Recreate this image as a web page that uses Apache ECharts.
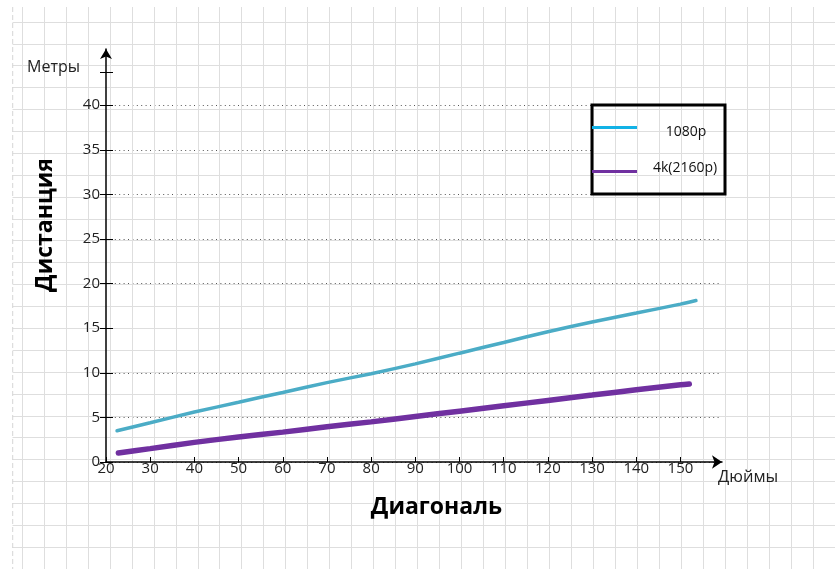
<!DOCTYPE html>
<html>
<head>
<meta charset="utf-8">
<script src="https://cdn.jsdelivr.net/npm/echarts@6/dist/echarts.min.js"></script>
<style>
  html, body { margin: 0; padding: 0; background: #fff; }
  #chart { width: 835px; height: 569px; }
</style>
</head>
<body>
<div id="chart"></div>
<script>
// Screen diagonal (inches) and recommended viewing distance (metres)
const seriesNames = ['1080p', '4k(2160p)'];
const inches1080 = [22.5, 30, 40, 50, 60, 70, 80, 90, 100, 110, 120, 130, 140, 150, 153.5];
const dist1080   = [3.5, 4.4, 5.6, 6.7, 7.8, 8.9, 9.9, 11.0, 12.2, 13.4, 14.6, 15.7, 16.7, 17.7, 18.1];
const inches4k   = [22.8, 30, 40, 50, 60, 70, 80, 90, 100, 110, 120, 130, 140, 150, 152];
const dist4k     = [1.0, 1.5, 2.2, 2.8, 3.35, 3.95, 4.5, 5.1, 5.7, 6.3, 6.9, 7.5, 8.1, 8.65, 8.75];

// Axis tick labels
const xTickLabels = [20, 30, 40, 50, 60, 70, 80, 90, 100, 110, 120, 130, 140, 150];
const yTickLabels = [0, 5, 10, 15, 20, 25, 30, 35, 40];
const yUnitTick = 43.7;   // unlabeled tick next to the unit caption

const font = '"Open Sans", "Noto Sans", sans-serif';
const seriesColors = ['#4bacc6', '#7030a0'];
const legendColors = ['#12b2e6', '#7030a0'];

function pairs(xs, ys) { return xs.map((x, i) => [x, ys[i]]); }

const chart = echarts.init(document.getElementById('chart'), null, { renderer: 'canvas' });

const option = {
  animation: false,
  backgroundColor: '#ffffff',
  grid: [
    // 0: graph-paper background
    { left: -4.5, right: -0.3, top: -6.1, bottom: -4.45, containLabel: false },
    // 1: dotted value lines
    { left: 106, right: 114, top: 105.4, bottom: 107, containLabel: false },
    // 2: axes and data
    { left: 106, right: 113, top: 49, bottom: 107, containLabel: false }
  ],
  xAxis: [
    {
      gridIndex: 0, type: 'value', min: -5, max: 33, interval: 1, z: 3,
      axisLine: { show: false }, axisTick: { show: false }, axisLabel: { show: false },
      splitLine: { show: true, lineStyle: { color: '#dedede', width: 1 } }
    },
    {
      gridIndex: 1, type: 'value', min: 20, max: 159.4, show: false,
      splitLine: { show: false }
    },
    {
      gridIndex: 2, type: 'value', min: 20, max: 159.4, z: 6,
      axisLine: { show: true, symbol: ['none', 'arrow'], symbolSize: [10, 10],
        lineStyle: { color: '#000', width: 1.5 } },
      axisTick: { show: true, inside: true, length: 5, customValues: xTickLabels,
        lineStyle: { color: '#000', width: 1 } },
      axisLabel: { show: true, customValues: xTickLabels, margin: -1,
        color: '#222', fontSize: 15, fontFamily: font },
      splitLine: { show: false }
    }
  ],
  yAxis: [
    {
      gridIndex: 0, type: 'value', min: -5, max: 21, interval: 1, z: 3,
      axisLine: { show: false }, axisTick: { show: false }, axisLabel: { show: false },
      splitLine: { show: true, lineStyle: { color: '#dedede', width: 1 } }
    },
    {
      gridIndex: 1, type: 'value', min: 0, max: 40, interval: 5, z: 1,
      axisLine: { show: false }, axisTick: { show: false }, axisLabel: { show: false },
      splitLine: { show: true, lineStyle: { color: '#555', width: 1, type: [1, 3.4] } }
    },
    {
      gridIndex: 2, type: 'value', min: 0, max: 46.3, position: 'left', z: 6,
      axisLine: { show: true, symbol: ['none', 'arrow'], symbolSize: [9, 10],
        lineStyle: { color: '#000', width: 1.5 } },
      axisTick: { show: true, inside: false, length: 6,
        customValues: yTickLabels.concat([yUnitTick]),
        lineStyle: { color: '#000', width: 1 } },
      axisLabel: { show: true, customValues: yTickLabels, margin: 6,
        color: '#222', fontSize: 15, fontFamily: font },
      splitLine: { show: false }
    },
    {
      gridIndex: 2, type: 'value', min: 0, max: 46.3, position: 'left', offset: 0, z: 6,
      axisLine: { show: false },
      axisTick: { show: true, inside: true, length: 7,
        customValues: yTickLabels.concat([yUnitTick]),
        lineStyle: { color: '#000', width: 1 } },
      axisLabel: { show: false },
      splitLine: { show: false }
    }
  ],
  series: [
    {
      name: seriesNames[0], type: 'line', xAxisIndex: 2, yAxisIndex: 2, z: 5,
      data: pairs(inches1080, dist1080), showSymbol: false, smooth: 0.3,
      lineStyle: { color: seriesColors[0], width: 3.5, cap: 'round' }
    },
    {
      name: seriesNames[1], type: 'line', xAxisIndex: 2, yAxisIndex: 2, z: 5,
      data: pairs(inches4k, dist4k), showSymbol: false, smooth: 0.3,
      lineStyle: { color: seriesColors[1], width: 5.5, cap: 'round' }
    }
  ],
  graphic: [
    // white margin around the graph paper
    { type: 'rect', z: 4, silent: true, shape: { x: 0, y: 0, width: 12.5, height: 569 }, style: { fill: '#fff' } },
    { type: 'rect', z: 4, silent: true, shape: { x: 0, y: 0, width: 835, height: 7 }, style: { fill: '#fff' } },
    { type: 'line', z: 4, silent: true, shape: { x1: 12.7, y1: 7, x2: 12.7, y2: 569 },
      style: { stroke: '#d6d6d6', lineWidth: 1, lineDash: [5, 3] } },

    // legend box: white fill under the paper, frame on top
    { type: 'rect', z: 2, silent: true, shape: { x: 592, y: 105, width: 133, height: 89 }, style: { fill: '#fff' } },
    { type: 'rect', z: 7, silent: true, shape: { x: 592, y: 105, width: 133, height: 89 },
      style: { fill: 'none', stroke: '#000', lineWidth: 3 } },
    { type: 'line', z: 7, silent: true, shape: { x1: 592, y1: 127.5, x2: 637, y2: 127.5 },
      style: { stroke: legendColors[0], lineWidth: 3 } },
    { type: 'line', z: 7, silent: true, shape: { x1: 592, y1: 171.5, x2: 637, y2: 171.5 },
      style: { stroke: legendColors[1], lineWidth: 3 } },
    { type: 'text', z: 7, x: 686, y: 132, silent: true,
      style: { text: seriesNames[0], fill: '#111', font: '14px ' + font, align: 'center', verticalAlign: 'middle' } },
    { type: 'text', z: 7, x: 685, y: 168, silent: true,
      style: { text: seriesNames[1], fill: '#111', font: '14px ' + font, align: 'center', verticalAlign: 'middle' } },

    // axis units and titles
    { type: 'text', z: 7, x: 27, y: 67, silent: true,
      style: { text: 'Метры', fill: '#222', font: '16px ' + font, align: 'left', verticalAlign: 'middle' } },
    { type: 'text', z: 7, x: 718, y: 477, silent: true,
      style: { text: 'Дюймы', fill: '#222', font: '16.5px ' + font, align: 'left', verticalAlign: 'middle' } },
    { type: 'text', z: 7, x: 436.5, y: 507, silent: true,
      style: { text: 'Диагональ', fill: '#000', font: 'bold 23px ' + font, align: 'center', verticalAlign: 'middle' } },
    { type: 'text', z: 7, x: 45, y: 225, rotation: Math.PI / 2, silent: true,
      style: { text: 'Дистанция', fill: '#000', font: 'bold 23px ' + font, align: 'center', verticalAlign: 'middle' } }
  ]
};

chart.setOption(option);
</script>
</body>
</html>
